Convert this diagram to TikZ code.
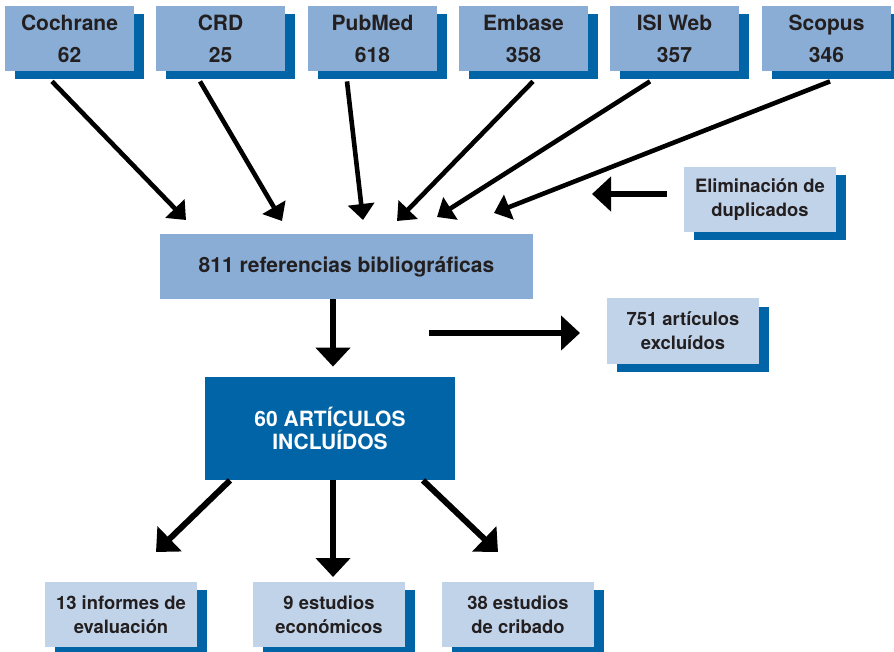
\documentclass[tikz,border=0pt]{standalone}
\usepackage{fontspec}
\setmainfont{TeX Gyre Heros}
\usetikzlibrary{arrows.meta,shadows}
\definecolor{dbblue}{HTML}{0064A6}
\definecolor{dbmid}{HTML}{8AADD5}
\definecolor{dblight}{HTML}{C1D3E9}
\definecolor{dbtext}{HTML}{231F20}

\begin{document}
\begin{tikzpicture}[x=0.5pt,y=-0.5pt,
        base/.style={text=dbtext,align=center,inner sep=0pt},
        boxshadow/.style={general shadow={fill=dbblue,shadow xshift=5pt,shadow yshift=-4.2pt}},
        source/.style={base,boxshadow,fill=dbmid,minimum width=64.5pt,minimum height=32.5pt,font=\fontsize{10.5}{16}\selectfont\bfseries},
        note/.style={base,boxshadow,fill=dblight,minimum width=76pt,minimum height=32.5pt,font=\fontsize{9.2}{12}\selectfont\bfseries},
        thinarr/.style={line width=2.3pt,-{Triangle[length=8pt,width=13pt]}},
        bigarr/.style={line width=3pt,-{Triangle[length=9.5pt,width=17pt]}}]
        \path[use as bounding box,clip] (0,0) rectangle (894,652);

        \node[source] (coch) at (69.5,38.5) {Cochrane\\62};
        \node[source] (crd) at (220.5,38.5) {CRD\\25};
        \node[source] (pubm) at (372.5,38.5) {PubMed\\618};
        \node[source] (emb) at (523.5,38.5) {Embase\\358};
        \node[source] (isi) at (674.5,38.5) {ISI Web\\357};
        \node[source] (scop) at (826.5,38.5) {Scopus\\346};

        \node[note] (elim) at (760,199.5) {Eliminación de\\duplicados};
        \node[base,fill=dbmid,minimum width=186.5pt,minimum height=32.5pt,font=\fontsize{10.5}{13}\selectfont\bfseries] (refs) at (346.5,266.5) {811 referencias bibliográficas};
        \node[note] (excl) at (683,331) {751 artículos\\excluídos};
        \node[base,fill=dbblue,text=white,minimum width=125pt,minimum height=51.5pt,font=\fontsize{10.5}{11.7}\selectfont\bfseries] (incl) at (330,428.5) {60 ARTÍCULOS\\INCLUÍDOS};

        \node[note] (inf) at (121,614.5) {13 informes de\\evaluación};
        \node[note] (econ) at (329,614.5) {9 estudios\\económicos};
        \node[note] (crib) at (518,614.5) {38 estudios\\de cribado};

        \coordinate (tcoch) at (186,220);
        \coordinate (tcrd) at (282,221);
        \coordinate (tpubm) at (363,220);
        \coordinate (temb) at (397,221);
        \coordinate (tisi) at (437,217);
        \coordinate (tscop) at (494,213);
        \coordinate (telim) at (592,194);
        \coordinate (exclfrom) at (429,333);
        \coordinate (excltip) at (580,333);
        \coordinate (tinf) at (156,552);
        \coordinate (tecon) at (333,577);
        \coordinate (tcrib) at (498,552);

        \draw[thinarr] ([xshift=-8.75pt,yshift=-5pt]coch.south) -- (tcoch);
        \draw[thinarr] ([xshift=-10.25pt,yshift=-5pt]crd.south) -- (tcrd);
        \draw[thinarr] ([xshift=-12.75pt,yshift=-5pt]pubm.south) -- (tpubm);
        \draw[thinarr] ([xshift=4.75pt,yshift=-5pt]emb.south) -- (temb);
        \draw[thinarr] ([xshift=-12.25pt,yshift=-5pt]isi.south) -- (tisi);
        \draw[thinarr] ([xshift=1.75pt,yshift=-5pt]scop.south) -- (tscop);
        \draw[bigarr] ([xshift=-8.5pt,yshift=2.75pt]elim.west) -- (telim);

        \draw[bigarr] ([xshift=-6.75pt]refs.south) -- ([xshift=1.5pt,yshift=5pt]incl.north);
        \draw[bigarr] (exclfrom) -- (excltip);

        \draw[bigarr] ([xshift=-50pt]incl.south) -- (tinf);
        \draw[bigarr] ([xshift=1.5pt]incl.south) -- (tecon);
        \draw[bigarr] ([xshift=46.5pt]incl.south) -- (tcrib);
\end{tikzpicture}
\end{document}
